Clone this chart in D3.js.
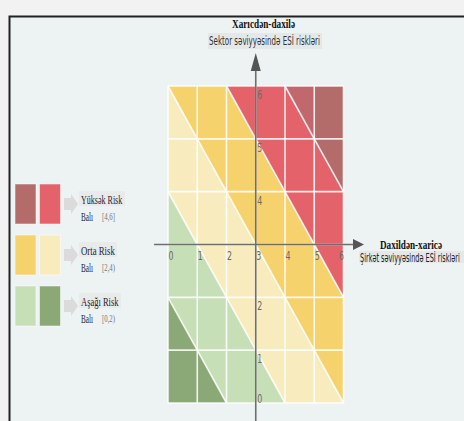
<!DOCTYPE html>
<html>
<head>
<meta charset="utf-8">
<script src="https://cdn.jsdelivr.net/npm/d3@7"></script>
<style>
  body { margin: 0; background: #f2f2f2; }
  svg { display: block; }
</style>
</head>
<body>
<div id="chart"></div>
<script>
// risk level colours, 0 = lowest
const levelColours = ["#8ba877", "#c6dfb6", "#f8ecbf", "#f6d26c", "#e4636b", "#b46c6a", "#c0686d"];

// level of each half-cell, rows from the top, columns from the left
const lowerLeft = [
  [2, 3, 3, 4, 4, 5],
  [2, 2, 3, 3, 4, 4],
  [1, 2, 2, 3, 3, 4],
  [1, 1, 2, 2, 3, 3],
  [0, 1, 1, 2, 2, 3],
  [0, 0, 1, 1, 2, 2]
];
const upperRight = [
  [3, 3, 4, 4, 6, 5],
  [2, 3, 3, 4, 4, 5],
  [2, 2, 3, 3, 4, 4],
  [1, 2, 2, 3, 3, 4],
  [1, 1, 2, 2, 3, 3],
  [0, 1, 1, 2, 2, 3]
];

const xTicks = [0, 1, 2, 3, 4, 5, 6];
const yTicks = [0, 1, 2, 4, 5, 6];

const legendTitles = ["Yüksək Risk", "Orta Risk", "Aşağı Risk"];
const legendRanges = ["[4,6]", "[2,4)", "[0,2)"];
const legendLevels = [[5, 4], [3, 2], [1, 0]];

const width = 464;
const height = 421;

const svg = d3.select("#chart").append("svg")
    .attr("width", width)
    .attr("height", height);

// panel with the dark frame on top and left
svg.append("rect")
    .attr("x", 9.5).attr("y", 16.5)
    .attr("width", width + 10).attr("height", height + 10)
    .attr("fill", "#edf2f2")
    .attr("stroke", "#222")
    .attr("stroke-width", 2);

const x = d3.scaleLinear().domain([0, 6]).range([168, 343.5]);
const y = d3.scaleLinear().domain([0, 6]).range([403, 86]);

const cells = [];
lowerLeft.forEach((row, r) => row.forEach((ll, c) => {
  cells.push({r, c, ll, ur: upperRight[r][c]});
}));

const grid = svg.append("g");

cells.forEach(d => {
  const x0 = x(d.c), x1 = x(d.c + 1);
  const y0 = y(6 - d.r), y1 = y(5 - d.r);
  if (d.ll === d.ur) {
    grid.append("rect")
        .attr("x", x0).attr("y", y0)
        .attr("width", x1 - x0).attr("height", y1 - y0)
        .attr("fill", levelColours[d.ll]);
  } else {
    grid.append("path")
        .attr("d", `M${x0},${y0}L${x1},${y1}L${x0},${y1}Z`)
        .attr("fill", levelColours[d.ll]);
    grid.append("path")
        .attr("d", `M${x0},${y0}L${x1},${y0}L${x1},${y1}Z`)
        .attr("fill", levelColours[d.ur]);
    grid.append("line")
        .attr("x1", x0).attr("y1", y0)
        .attr("x2", x1).attr("y2", y1)
        .attr("stroke", "#fff")
        .attr("stroke-opacity", 0.85)
        .attr("stroke-width", 1.6);
  }
});

// white cell borders
grid.selectAll(".vline")
  .data(xTicks)
  .join("line")
    .attr("x1", d => x(d)).attr("x2", d => x(d))
    .attr("y1", y(6)).attr("y2", y(0))
    .attr("stroke", "#fff").attr("stroke-opacity", 0.85).attr("stroke-width", 1.6);
grid.selectAll(".hline")
  .data(d3.range(7))
  .join("line")
    .attr("y1", d => y(d)).attr("y2", d => y(d))
    .attr("x1", x(0)).attr("x2", x(6))
    .attr("stroke", "#fff").attr("stroke-opacity", 0.85).attr("stroke-width", 1.6);

// axes with arrows
const axisColour = "#6f6f6f";
svg.append("line")
    .attr("x1", 154).attr("x2", 355)
    .attr("y1", y(3)).attr("y2", y(3))
    .attr("stroke", axisColour).attr("stroke-width", 1.6);
svg.append("path")
    .attr("d", `M353,${y(3) - 5.5}L364,${y(3)}L353,${y(3) + 5.5}Z`)
    .attr("fill", "#555");
svg.append("line")
    .attr("x1", x(3)).attr("x2", x(3))
    .attr("y1", height).attr("y2", 64)
    .attr("stroke", axisColour).attr("stroke-width", 1.6);
svg.append("path")
    .attr("d", `M${x(3) - 5},71L${x(3)},53L${x(3) + 5},71Z`)
    .attr("fill", "#555");

const tickFont = "'Liberation Sans Narrow', 'DejaVu Sans Condensed', sans-serif";

svg.append("g")
  .selectAll("text")
  .data(xTicks)
  .join("text")
    .attr("x", d => d === 6 ? x(d) - 4.5 : x(d) + 0.5)
    .attr("y", y(3) + 15)
    .attr("font-family", tickFont)
    .attr("font-size", 13)
    .attr("textLength", 5).attr("lengthAdjust", "spacingAndGlyphs")
    .attr("fill", "#6a6a6a")
    .text(d => d);

svg.append("g")
  .selectAll("text")
  .data(yTicks)
  .join("text")
    .attr("x", x(3) + 1.5)
    .attr("y", d => d === 0 ? y(d) - 0.5 : y(d) + 13)
    .attr("font-family", tickFont)
    .attr("font-size", 13)
    .attr("textLength", 5).attr("lengthAdjust", "spacingAndGlyphs")
    .attr("fill", "#6a6a6a")
    .text(d => d);

// axis titles
const serif = "'Liberation Serif', 'DejaVu Serif', serif";
const sans = "'Liberation Sans Narrow', 'DejaVu Sans Condensed', sans-serif";

svg.append("rect")
    .attr("x", 208).attr("y", 33).attr("width", 114).attr("height", 16)
    .attr("fill", "#e5e8e9");
svg.append("text")
    .attr("x", 263.5).attr("y", 27.5)
    .attr("text-anchor", "middle")
    .attr("font-family", serif).attr("font-weight", "bold").attr("font-size", 13)
    .attr("textLength", 63).attr("lengthAdjust", "spacingAndGlyphs")
    .attr("fill", "#111")
    .text("Xarıcdən-daxilə");
svg.append("text")
    .attr("x", 264.5).attr("y", 45)
    .attr("text-anchor", "middle")
    .attr("font-family", sans).attr("font-size", 13)
    .attr("textLength", 111).attr("lengthAdjust", "spacingAndGlyphs")
    .attr("fill", "#333")
    .text("Sektor səviyyəsində ESİ riskləri");

svg.append("rect")
    .attr("x", 359).attr("y", 251).attr("width", 105).attr("height", 12)
    .attr("fill", "#e5e8e9");
svg.append("text")
    .attr("x", 380).attr("y", 249)
    .attr("font-family", serif).attr("font-weight", "bold").attr("font-size", 12)
    .attr("textLength", 62).attr("lengthAdjust", "spacingAndGlyphs")
    .attr("fill", "#111")
    .text("Daxildən-xaricə");

// squeeze the company-level label with a transform so it ends inside the page
const subRight = svg.append("text")
    .attr("font-family", sans).attr("font-size", 12)
    .attr("fill", "#222")
    .text("Şirkət səviyyəsində ESİ riskləri");
const subLen = subRight.node().getComputedTextLength();
subRight.attr("transform", `translate(360,261.5) scale(${100 / subLen},1)`);

// legend
const legendTop = [184, 235, 286];
const legend = svg.append("g");

legendTitles.forEach((title, i) => {
  const top = legendTop[i];
  const mid = top + 20;
  legendLevels[i].forEach((lv, j) => {
    legend.append("rect")
        .attr("x", 15 + j * 24.5).attr("y", top)
        .attr("width", 21).attr("height", 40)
        .attr("fill", levelColours[lv])
        .attr("stroke", "#fff").attr("stroke-opacity", 0.5).attr("stroke-width", 1);
  });
  legend.append("path")
      .attr("d", `M64,${mid - 6}L71,${mid - 6}L71,${mid - 10}L78,${mid}L71,${mid + 10}L71,${mid + 6}L64,${mid + 6}Z`)
      .attr("fill", "#dbdbdb");
  legend.append("rect")
      .attr("x", 79).attr("y", top + 7)
      .attr("width", title.length * 4 + 2).attr("height", 15)
      .attr("fill", "#e9eaea");
  legend.append("text")
      .attr("x", 81).attr("y", top + 19.5)
      .attr("font-family", serif).attr("font-size", 13.5)
      .attr("textLength", title.length * 3.75).attr("lengthAdjust", "spacingAndGlyphs")
      .attr("fill", "#1f2235")
      .text(title);
  legend.append("text")
      .attr("x", 81).attr("y", top + 36.5)
      .attr("font-family", serif).attr("font-size", 13.5)
      .attr("textLength", 12).attr("lengthAdjust", "spacingAndGlyphs")
      .attr("fill", "#1f2235")
      .text("Balı");
  legend.append("text")
      .attr("x", 102).attr("y", top + 36)
      .attr("font-family", serif).attr("font-size", 11)
      .attr("textLength", 13).attr("lengthAdjust", "spacingAndGlyphs")
      .attr("fill", "#777")
      .text(legendRanges[i]);
});
</script>
</body>
</html>
